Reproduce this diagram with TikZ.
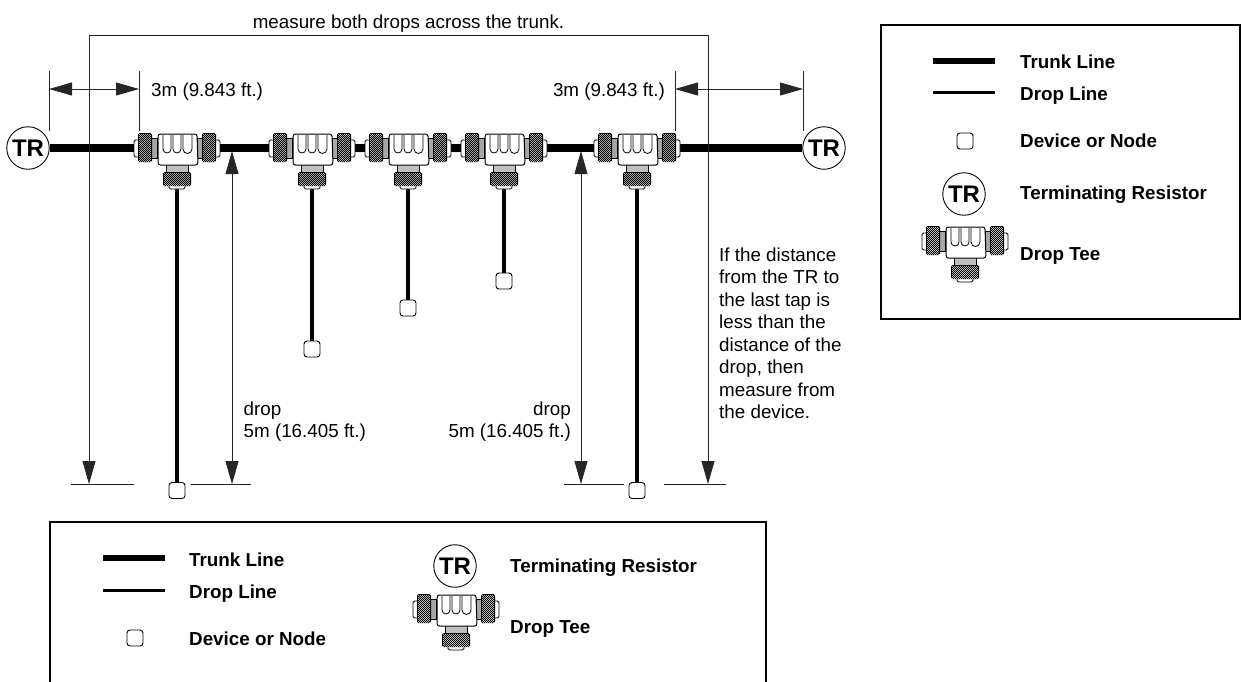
\documentclass[tikz,border=0pt]{standalone}
\usepackage{fontspec}
\setmainfont{Liberation Sans}
\usetikzlibrary{arrows.meta}
\newcommand{\knurl}[4]{% x0,y0,x1,y1 : black block with white dots
  \fill[black,rounded corners=1.5] (#1,#2) rectangle (#3,#4);
  \begin{scope}
    \clip ({#1+1},{#2+1}) rectangle ({#3-1},{#4-1});
    \pgfmathtruncatemacro{\knw}{(#3)-(#1)}
    \pgfmathtruncatemacro{\knh}{(#4)-(#2)}
    \foreach \kx in {0,2,...,\knw}{\foreach \ky in {0,2,...,\knh}{
      \fill[white] ({#1+\kx+.5},{#2+\ky+.5}) circle (.48);
      \fill[white] ({#1+\kx+1.5},{#2+\ky+1.5}) circle (.48);
    }}
  \end{scope}}
\tikzset{
  trunk/.style={line width=7.4pt},
  dropline/.style={line width=3.8pt},
  leader/.style={line width=.8pt,draw=black!85},
  dimboth/.style={line width=.8pt,draw=black!85,{Triangle[length=23pt,width=13pt]}-{Triangle[length=23pt,width=13pt]}},
  device/.style={draw,line width=.9pt,rounded corners=3pt,fill=white,minimum width=16pt,minimum height=16pt,inner sep=0pt},
  terminator/.style={draw,circle,line width=.9pt,fill=white,minimum size=42.5pt,inner sep=0pt,font=\fontsize{24}{24}\selectfont\bfseries},
  plain/.style={inner sep=0pt,font=\fontsize{18.8}{22.5}\selectfont},
  legend/.style={inner sep=0pt,anchor=base west,font=\fontsize{18.8}{20}\selectfont\bfseries},
  legendbox/.style={draw,line width=1.4pt},
  part/.style={draw=black,line width=.8pt,fill=white},
  pics/teeshape/.style={code={
    % side end caps
    \draw[part,rounded corners=1.5] (-43,-8) rectangle (-37,9);
    \draw[part,rounded corners=1.5] (37,-8) rectangle (43,9);
    % necks
    \draw[part,fill=black!35] (-26,-10) rectangle (-20,10);
    \draw[part,fill=black!35] (20,-10) rectangle (26,10);
    % knurled rings
    \knurl{-39}{-15}{-25}{14}
    \knurl{25}{-15}{39}{14}
    % bottom neck, cap
    \draw[part,fill=black!25] (-11,16) rectangle (11,25);
    \draw[part,rounded corners=1.5] (-8,36) rectangle (8,41);
    \knurl{-14}{24}{14}{38}
    % body
    \draw[part,line width=1pt,rounded corners=2.5] (-19,-14) -- (20,-14) -- (21,17) -- (-19,17) -- cycle;
    \foreach \ua/\ub in {-14/-6,-4/4,6/15}{
      \draw[line width=.8pt] (\ua,-13) -- (\ua,1) arc[start angle=180,end angle=0,radius={(\ub-\ua)/2}] -- (\ub,-13);
    }
  }}
}
\begin{document}
\begin{tikzpicture}[x=1pt,y=-1pt]
\useasboundingbox (0,0) rectangle (1241,681);
% positions
\coordinate (t1) at (177,148);
\coordinate (t2) at (312,148);
\coordinate (t3) at (408,148);
\coordinate (t4) at (504,148);
\coordinate (t5) at (637,148);
\node[terminator] (trl) at (28,148) {TR};
\node[terminator] (trr) at (824,148) {TR};
\node[device] (d1) at (177,490.5) {};
\node[device] (d2) at (312,349) {};
\node[device] (d3) at (408,308) {};
\node[device] (d4) at (504,281) {};
\node[device] (d5) at (637,490.5) {};
% trunk + drops
\draw[trunk] (trl) -- (trr);
\foreach \n in {1,...,5}{\draw[dropline] (t\n) -- (d\n);}
\foreach \n in {1,...,5}{\pic at (t\n) {teeshape};}
% dimension 3m left
\coordinate (a1) at (49,71); \coordinate (a2) at (49,131);
\coordinate (a3) at (139,71); \coordinate (a4) at (139,131);
\coordinate (a5) at (49,89); \coordinate (a6) at (139,89);
\draw[leader] (a1) -- (a2);
\draw[leader] (a3) -- (a4);
\draw[dimboth] (a5) -- (a6);
\coordinate (b1) at (675,71); \coordinate (b2) at (675,131);
\coordinate (b3) at (803,71); \coordinate (b4) at (803,131);
\coordinate (b5) at (675,89); \coordinate (b6) at (803,89);
\draw[leader] (b1) -- (b2);
\draw[leader] (b3) -- (b4);
\draw[dimboth] (b5) -- (b6);
% top bracket
\coordinate (c1) at (89,484); \coordinate (c2) at (89,35);
\coordinate (c3) at (708,35); \coordinate (c4) at (708,484);
\draw[leader,{Triangle[length=23pt,width=13pt]}-{Triangle[length=23pt,width=13pt]}] (c1) -- (c2) -- (c3) -- (c4);
% drop dims
\coordinate (e1) at (232,151); \coordinate (e2) at (232,484);
\coordinate (f1) at (581,151); \coordinate (f2) at (581,484);
\draw[dimboth] (e1) -- (e2);
\draw[dimboth] (f1) -- (f2);
% baseline ticks
\coordinate (g1) at (71,484); \coordinate (g2) at (134,484);
\coordinate (g3) at (191,484); \coordinate (g4) at (251,484);
\coordinate (g5) at (564,484); \coordinate (g6) at (624,484);
\coordinate (g7) at (664,484); \coordinate (g8) at (726,484);
\draw[leader] (g1) -- (g2);
\draw[leader] (g3) -- (g4);
\draw[leader] (g5) -- (g6);
\draw[leader] (g7) -- (g8);
% labels
\node[plain,anchor=base] (l1) at (408.5,28) {measure both drops across the trunk.};
\node[plain,anchor=base west] (l2) at (151,96) {3m (9.843 ft.)};
\node[plain,anchor=base east] (l3) at (665,96) {3m (9.843 ft.)};
\node[plain,anchor=north west,align=left] (l4) at (243.5,401.3) {drop\\5m (16.405 ft.)};
\node[plain,anchor=north east,align=right] (l5) at (571,401.3) {drop\\5m (16.405 ft.)};
\node[plain,anchor=north west,align=left] (l6) at (719,247.3) {If the distance\\from the TR to\\the last tap is\\less than the\\distance of the\\drop, then\\measure from\\the device.};
% upper legend
\node[legendbox,minimum width=359pt,minimum height=294pt,inner sep=0pt] (box1) at (1060.5,172) {};
\coordinate (p1) at (933,61); \coordinate (p2) at (995,61);
\coordinate (p3) at (933,92); \coordinate (p4) at (995,92);
\draw[trunk,line width=6pt] (p1) -- (p2);
\draw[dropline,line width=3pt] (p3) -- (p4);
\node[legend] (k1) at (1020,68.3) {Trunk Line};
\node[legend] (k2) at (1020,100) {Drop Line};
\node[device] (k3) at (965,141) {};
\node[legend] (k4) at (1020,147.5) {Device or Node};
\node[terminator] (k5) at (964,194) {TR};
\node[legend] (k6) at (1020,199.5) {Terminating Resistor};
\pic at (965,241) {teeshape};
\node[legend] (k7) at (1020,260) {Drop Tee};
% lower legend
\coordinate (q1) at (50,690); \coordinate (q2) at (50,522);
\coordinate (q3) at (766,522); \coordinate (q4) at (766,690);
\draw[legendbox] (q1) -- (q2) -- (q3) -- (q4);
\coordinate (r1) at (103,558); \coordinate (r2) at (165,558);
\coordinate (r3) at (103,590); \coordinate (r4) at (165,590);
\draw[trunk,line width=6pt] (r1) -- (r2);
\draw[dropline,line width=3pt] (r3) -- (r4);
\node[legend] (m1) at (189,566) {Trunk Line};
\node[legend] (m2) at (189,598) {Drop Line};
\node[device] (m3) at (135,638) {};
\node[legend] (m4) at (189,645) {Device or Node};
\node[terminator] (m5) at (455,566) {TR};
\node[legend] (m6) at (510,572) {Terminating Resistor};
\pic at (456,609) {teeshape};
\node[legend] (m7) at (510,633) {Drop Tee};
\end{tikzpicture}
\end{document}
